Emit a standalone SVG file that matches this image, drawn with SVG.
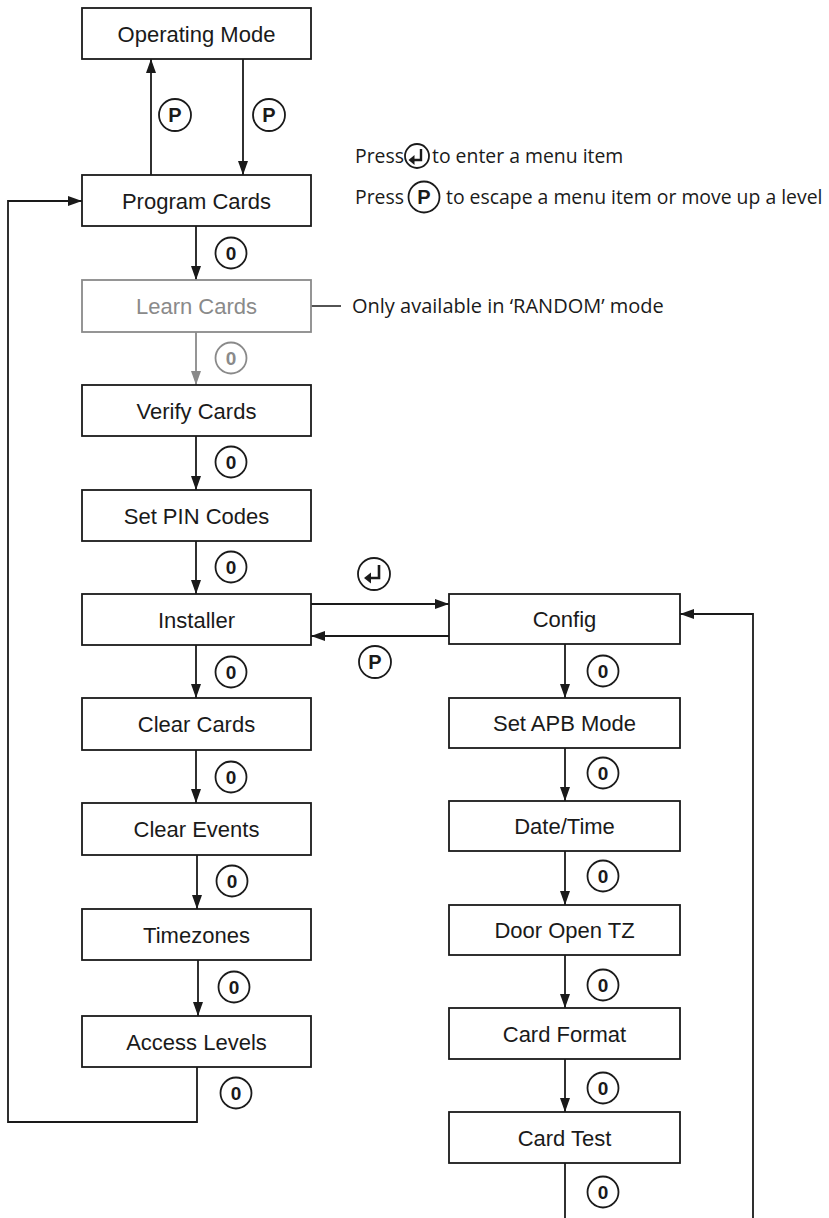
<svg xmlns="http://www.w3.org/2000/svg" width="829" height="1218" viewBox="0 0 829 1218">
<style>
.box rect{fill:#fff;stroke:#1a1a1a;stroke-width:1.8}
.box text{font-family:"Liberation Sans",Arial,sans-serif;font-size:22px;fill:#1a1a1a;text-anchor:middle}
.gray rect{stroke:#8a8a8a}
.gray text{fill:#8a8a8a}
.conn path{fill:none;stroke:#1a1a1a;stroke-width:1.8}
.conn path.g{stroke:#8a8a8a}
.key circle{fill:#fff;stroke:#1a1a1a;stroke-width:1.8}
.key text{font-family:"Liberation Sans",Arial,sans-serif;font-weight:bold;font-size:19px;fill:#1a1a1a;text-anchor:middle}
.key text.p{font-size:20px}
.key.g circle{stroke:#8a8a8a}
.key.g text{fill:#8a8a8a}
.ent{fill:none;stroke:#1a1a1a;stroke-width:2.6}
.note{font-family:"Open Sans","Noto Sans",sans-serif;font-size:19.4px;fill:#1a1a1a}
</style>
<defs>
<marker id="ah" viewBox="0 0 14 10" refX="14" refY="5" markerWidth="14" markerHeight="10" markerUnits="userSpaceOnUse" orient="auto"><path d="M0,0 L14,5 L0,10 z" fill="#1a1a1a"/></marker>
<marker id="ahg" viewBox="0 0 14 10" refX="14" refY="5" markerWidth="14" markerHeight="10" markerUnits="userSpaceOnUse" orient="auto"><path d="M0,0 L14,5 L0,10 z" fill="#8a8a8a"/></marker>
</defs>

<g id="connectors" class="conn">
<path d="M151,175 V59" marker-end="url(#ah)"/>
<path d="M243,59 V175" marker-end="url(#ah)"/>
<path d="M196,226 V280" marker-end="url(#ah)"/>
<path class="g" d="M196,332 V385" marker-end="url(#ahg)"/>
<path d="M196,436 V490" marker-end="url(#ah)"/>
<path d="M196,541 V594" marker-end="url(#ah)"/>
<path d="M196,645 V698" marker-end="url(#ah)"/>
<path d="M196,750 V803" marker-end="url(#ah)"/>
<path d="M197,855 V909" marker-end="url(#ah)"/>
<path d="M198,960 V1016" marker-end="url(#ah)"/>
<path d="M197,1067 V1122 H8 V201 H82" marker-end="url(#ah)"/>
<path d="M311,604 H449" marker-end="url(#ah)"/>
<path d="M449,636 H311" marker-end="url(#ah)"/>
<path d="M565,644 V698" marker-end="url(#ah)"/>
<path d="M565,748 V801" marker-end="url(#ah)"/>
<path d="M565,851 V905" marker-end="url(#ah)"/>
<path d="M565,955 V1008" marker-end="url(#ah)"/>
<path d="M565,1059 V1112" marker-end="url(#ah)"/>
<path d="M565,1163 V1218"/>
<path d="M753,1218 V614 H680" marker-end="url(#ah)"/>
<path d="M311,306 H341" style="stroke-width:1.5"/>
</g>

<g id="n-operating-mode" class="box"><rect x="82" y="8" width="229" height="51"/><text x="196.5" y="41.5">Operating Mode</text></g>
<g id="n-program-cards" class="box"><rect x="82" y="175" width="229" height="51"/><text x="196.5" y="208.5">Program Cards</text></g>
<g id="n-learn-cards" class="box gray"><rect x="82" y="280" width="229" height="52"/><text x="196.5" y="313.5">Learn Cards</text></g>
<g id="n-verify-cards" class="box"><rect x="82" y="385" width="229" height="51"/><text x="196.5" y="418.5">Verify Cards</text></g>
<g id="n-set-pin-codes" class="box"><rect x="82" y="490" width="229" height="51"/><text x="196.5" y="523.5">Set PIN Codes</text></g>
<g id="n-installer" class="box"><rect x="82" y="594" width="229" height="51"/><text x="196.5" y="627.5">Installer</text></g>
<g id="n-clear-cards" class="box"><rect x="82" y="698" width="229" height="52"/><text x="196.5" y="731.5">Clear Cards</text></g>
<g id="n-clear-events" class="box"><rect x="82" y="803" width="229" height="52"/><text x="196.5" y="836.5">Clear Events</text></g>
<g id="n-timezones" class="box"><rect x="82" y="909" width="229" height="51"/><text x="196.5" y="942.5">Timezones</text></g>
<g id="n-access-levels" class="box"><rect x="82" y="1016" width="229" height="51"/><text x="196.5" y="1049.5">Access Levels</text></g>

<g id="n-config" class="box"><rect x="449" y="594" width="231" height="50"/><text x="564.5" y="627">Config</text></g>
<g id="n-set-apb-mode" class="box"><rect x="449" y="698" width="231" height="50"/><text x="564.5" y="731">Set APB Mode</text></g>
<g id="n-date-time" class="box"><rect x="449" y="801" width="231" height="50"/><text x="564.5" y="834">Date/Time</text></g>
<g id="n-door-open-tz" class="box"><rect x="449" y="905" width="231" height="50"/><text x="564.5" y="938">Door Open TZ</text></g>
<g id="n-card-format" class="box"><rect x="449" y="1008" width="231" height="51"/><text x="564.5" y="1041.5">Card Format</text></g>
<g id="n-card-test" class="box"><rect x="449" y="1112" width="231" height="51"/><text x="564.5" y="1145.5">Card Test</text></g>

<g id="keys">
<g class="key"><circle cx="175" cy="115" r="16"/><text class="p" x="175" y="122">P</text></g>
<g class="key"><circle cx="269" cy="115" r="16"/><text class="p" x="269" y="122">P</text></g>
<g class="key"><circle cx="231" cy="253" r="15.5"/><text x="231" y="260">0</text></g>
<g class="key g"><circle cx="231" cy="358" r="15.5"/><text x="231" y="365">0</text></g>
<g class="key"><circle cx="231" cy="462" r="15.5"/><text x="231" y="469">0</text></g>
<g class="key"><circle cx="231" cy="567" r="15.5"/><text x="231" y="574">0</text></g>
<g class="key"><circle cx="231" cy="672" r="15.5"/><text x="231" y="679">0</text></g>
<g class="key"><circle cx="231" cy="777" r="15.5"/><text x="231" y="784">0</text></g>
<g class="key"><circle cx="232" cy="881" r="15.5"/><text x="232" y="888">0</text></g>
<g class="key"><circle cx="234" cy="987" r="15.5"/><text x="234" y="994">0</text></g>
<g class="key"><circle cx="236" cy="1093" r="15.5"/><text x="236" y="1100">0</text></g>
<g class="key"><circle cx="603" cy="671" r="15.5"/><text x="603" y="678">0</text></g>
<g class="key"><circle cx="603" cy="773" r="15.5"/><text x="603" y="780">0</text></g>
<g class="key"><circle cx="603" cy="876" r="15.5"/><text x="603" y="883">0</text></g>
<g class="key"><circle cx="603" cy="985" r="15.5"/><text x="603" y="992">0</text></g>
<g class="key"><circle cx="603" cy="1088" r="15.5"/><text x="603" y="1095">0</text></g>
<g class="key"><circle cx="603" cy="1192" r="15.5"/><text x="603" y="1199">0</text></g>
<g class="key"><circle cx="374" cy="574" r="16"/><path class="ent" d="M379,565 V578 H368"/><path d="M364,578 L371,572.5 L371,583.5 z" fill="#1a1a1a"/></g>
<g class="key"><circle cx="375" cy="662" r="16"/><text class="p" x="375" y="669">P</text></g>
</g>

<g id="legend">
<text class="note" x="355" y="163">Press</text>
<g class="key"><circle cx="417" cy="156" r="12"/><path class="ent" style="stroke-width:2.4" d="M421,149 V160 H413"/><path d="M408.5,160 L414.5,155 L414.5,165 z" fill="#1a1a1a"/></g>
<text class="note" x="432" y="163">to enter a menu item</text>
<text class="note" x="355" y="204">Press</text>
<g class="key"><circle cx="424" cy="197" r="15.5"/><text class="p" style="font-size:20px" x="424" y="204">P</text></g>
<text class="note" x="446" y="204">to escape a menu item or move up a level</text>
<text class="note" style="font-size:20px" x="352" y="313">Only available in ‘RANDOM’ mode</text>
</g>
</svg>
